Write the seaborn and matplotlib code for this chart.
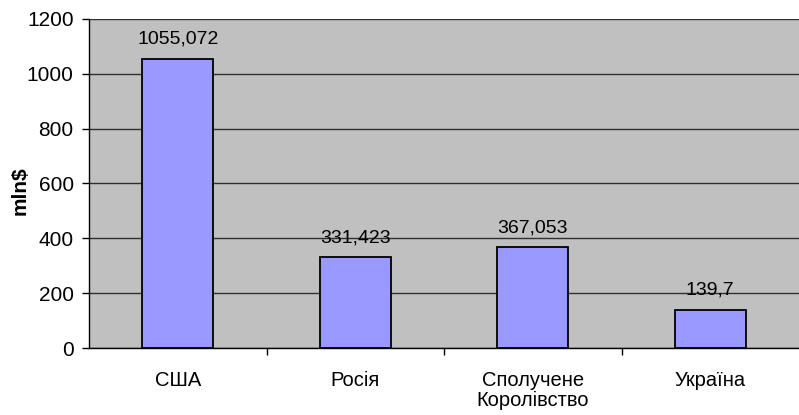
import matplotlib
matplotlib.use("Agg")
import matplotlib.pyplot as plt
import seaborn as sns
import pandas as pd

categories = ["США", "Росія", "Сполучене\nКоролівство", "Україна"]
values = [1055.072, 331.423, 367.053, 139.7]
value_labels = ["1055,072", "331,423", "367,053", "139,7"]
yticks = [0, 200, 400, 600, 800, 1000, 1200]

sns.set_theme(style="white")
plt.rcParams['font.family'] = ['Liberation Sans', 'DejaVu Sans']
plt.rcParams['text.color'] = 'black'
plt.rcParams['xtick.color'] = 'black'
plt.rcParams['ytick.color'] = 'black'
plt.rcParams['axes.labelcolor'] = 'black'

df = pd.DataFrame({"country": categories, "value": values})

fig = plt.figure(figsize=(7.99, 4.15), dpi=100)
ax = fig.add_axes([89/799, 1-348/415, 1-89/799, (348-19)/415])
ax.set_facecolor("#c0c0c0")

sns.barplot(data=df, x="country", y="value", color="#9999ff", saturation=1,
            edgecolor="black", linewidth=1.3, width=0.4, ax=ax, zorder=3)

ax.set_ylim(0, 1200)
ax.set_xlim(-0.5, 3.5)
ax.set_yticks(yticks)
ax.set_yticklabels([str(t) for t in yticks], fontsize=15)
ax.yaxis.grid(True, color="#303030", linewidth=1)
ax.set_axisbelow(True)

ax.set_xticks([0.5, 1.5, 2.5])
ax.set_xticklabels([])
ax.tick_params(axis="x", length=5, width=1, color="black", direction="out", bottom=True)
ax.tick_params(axis="y", length=5, width=1, color="black", direction="out", left=True, labelsize=15, pad=6)
for i, c in enumerate(categories):
    ax.text(i, -0.07, c, transform=ax.get_xaxis_transform(), ha="center", va="top",
            fontsize=14.5, linespacing=1.05)

for i, (v, lab) in enumerate(zip(values, value_labels)):
    ax.annotate(lab, (i, v), xytext=(0, 8), textcoords="offset points",
                ha="center", va="bottom", fontsize=14)

ax.set_xlabel("")
ax.set_ylabel("mln$", fontsize=15, fontweight="bold")
ax.yaxis.set_label_coords(-0.084, 0.477)

for s in ["right", "top"]:
    ax.spines[s].set_visible(False)
ax.spines["left"].set_color("black")
ax.spines["bottom"].set_color("black")
ax.spines["left"].set_linewidth(1)
ax.spines["bottom"].set_linewidth(1)

fig.savefig("out.png", dpi=100)
